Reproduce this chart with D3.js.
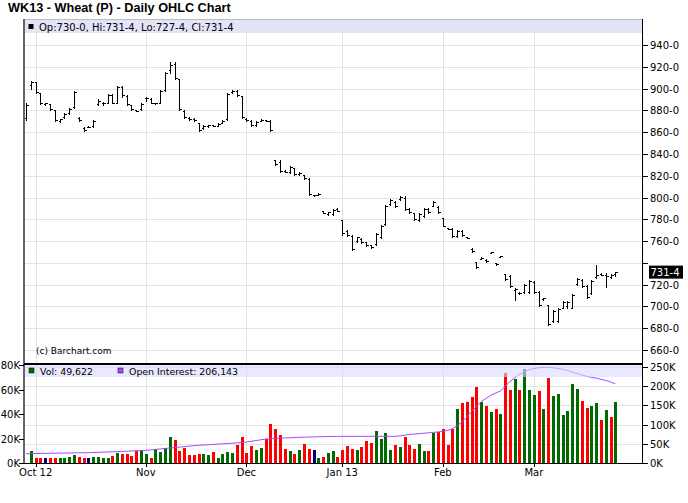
<!DOCTYPE html>
<html><head><meta charset="utf-8">
<script src="https://cdn.jsdelivr.net/npm/d3@7"></script>
<style>html,body{margin:0;padding:0;background:#fff}svg{display:block}</style>
</head><body>
<svg id="c" width="688" height="503"></svg>
<script>
const openP  = [873,903,906,896,886,886,880,870,874,878,883,873,864,865,866,886,887,887,894,887,901,893,885,880,881,891,890,886.5,887,899,917,923,909,879,873,872,868,864,866,866.5,866,868,872,897,898,893,872,870,867,870,871,870,834,833,824,823,827,821.5,821,817,802.5,802,788,785,785,789,779,769,765,760,762,759,756,757,764,776,794,796,798.5,800,789,786,779,783,789,792,791,781,772,771,765,769,763.5,753,741,744,743,749,740,745,730,728,715,712,713,713,722,713,707,701,687,687,699,700,699,721,724,719,712,727,730,729,727,730];
const highP  = [887,907,906,896,887,886,880,872,878,882,898,874,864.5,865.5,871,890,888,895,895,902,902,894,885,880.5,887,892,891,887,899,915,924,924,909,880,874,873,868,866.6,867,866.5,868,871,895.6,899,899,893.5,873,871,870,872,871,871,834.5,834.5,825,829,827.5,823,821,817.7,802.5,804,788,787,789,790,779.5,770,765.7,764,762.6,759.6,756.5,767,775,793,799,797,801,801,790,786,786,790,790,797,792,781,772.4,772,770,770,763.5,754,741,745,743.6,750,740,746.5,730,729,717,713,720.5,724.4,723,714,708,701.5,697,698.5,705,705,711,726,725,720,724.4,738,730.6,730.6,729.6,731.5];
const lowP   = [871,900,896,886,885,880,870,869,873,877,882,870,861,864.5,865,885,885,886.5,886.5,886.5,892.6,885,880,879,880,888.6,886.5,886,886.5,898,914,909,880,873,871,870,861,863,865,866,866,868,871,895.6,893.5,873,870,866,866,870,870,861,830,823,823,822.5,821,821,817,802.4,802,802,785.6,784,784,787.6,766,765,752,759.6,758,755.6,754,756.5,763,775,793.5,791,798,788.6,786,779,778,782.5,786,792,786,773.4,771,764,764,765,763,750,735,743.6,741,749,738,745,724,718,706,711,712,712,712,700,706,683,686,686,698.5,699,698.5,720,718,708,711,726,728.4,717.7,726,727.5];
const closeP = [885,906,897,887,887,881,871,872,877,881,897,871,862,865,870,889,887,894,887,901,894,886,881,879.5,886,891,887,886.5,898,914,922,910,881,874,872,871,862,866,866.5,866,867.5,870.5,895,898,894,874,871,867,869.5,871.5,870.5,862,831,824,823.5,828,822,822.5,818,803,802.5,803.5,786,786.5,788.5,788,767,766,753,763.5,759,756,755,766.5,774,792,798,792,800.5,789,786.5,780,785,789.5,787,796,787,774,771.5,765,769,766,763,750.5,736,744.5,741.5,750,738.5,746,725,719,716,712.5,720,723.5,713,701,707.5,684,696,698,704,704.5,710.5,725,719,709,723.5,729,729,728,728.5,731.5];
const volumeK = [0,10,4.5,3.7,3.7,4.5,3.7,3.7,3.7,5.3,6.7,5.3,3.7,3.7,5.3,5.3,3.7,3.7,6,8.5,7,7.5,6,10,10.7,7,4.5,11.5,9.3,12,21,18.7,10,12,6.7,6.7,7.5,7,6.7,9,3.7,7.5,9,8.5,14.7,21,8.5,14,11,12,20,32,27.5,22.7,11.5,10,7.5,10.7,15.5,11.5,10.7,3.7,5.3,8.5,9.6,5.3,10.7,14,11.5,10.7,12.8,18,16,26,19.5,24.8,10.7,14.7,13,21,14.7,11.5,15.2,10,10,24.8,25.6,27.5,14.7,28,44.5,49,50,54,62,50,47,42,44,40,74,59.5,69,59.5,77,59.5,55.5,58.7,44,70,54.7,56.8,39,43,64.8,60.8,50.7,44.8,46.7,48.8,35.2,43.2,37.3,49.622];
const volumeDir = "ggrrnrrggg" + "grrnggggrg" + "rrrrggrggg" + "grrrrrrggr" + "ggggrrrrgg" + "rrrrrgrgrr" + "ngrggrrrrg" + "rrrggggrgr" + "rrggrgrrrr" + "grrrrgrgrg" + "rrgrgggrgr" + "ggggggrrgg" + "rgrg";
const openInterestK = [
  24.3,24.5,24.7,24.9,25.1,25.3,25.5,25.7,25.9,26.1,
  26.3,26.5,26.7,26.9,27.2,27.8,28.3,28.8,29.3,29.8,
  30.3,30.8,31.3,31.8,32.4,33,34.2,35.4,36.6,37.8,
  39,40.2,41.4,42.6,43.8,45,46,46.8,47.6,48.4,
  49.2,50,50.8,51.6,52.4,53.5,54.7,56.5,58.5,60.5,
  62.5,63.3,64,64.6,65.2,65.7,66.2,66.8,67.2,67.6,
  68,68.3,68.6,68.9,69.1,69.3,69.4,69.4,69.4,69.4,
  69.4,69.4,69.4,69.4,69.4,69.4,69.4,69.4,70.5,72.5,
  74.2,75.3,76.4,77.5,78.6,79.7,80.8,82.5,85,89,
  97,107,120,134,147,160,168,176,182,187.5,
  199,212,222,231,237,243,246,248,249,249,
  248,246,244,241,237,233,229,226,223,221,
  218,215,211,206.143];
const priceTicks = [660,680,700,720,740,760,780,800,820,840,860,880,900,920,940];
const volTicksK = [0,20,40,60,80];
const oiTicksK = [0,50,100,150,200,250];
const monthLabels = ["Oct 12","Nov","Dec","Jan 13","Feb","Mar"];
const monthIndex = [2,25,46,66,87,106];
const title = "WK13 - Wheat (P) - Daily OHLC Chart";

const svg = d3.select("#c");
const FONT = "DejaVu Sans, Verdana, sans-serif";
const L = 24, R = 642, PT = 19, VB = 463;
const n = openP.length - 1;
const x = d3.scaleLinear().domain([0,123]).range([26.1,615.3]);
const y = d3.scaleLinear().domain([660,940]).range([350,45]);
const yv = d3.scaleLinear().domain([0,80]).range([463,365.4]);
const yo = d3.scaleLinear().domain([0,250]).range([463,367]);
const fmt = p => { const w = Math.floor(p), f = Math.round((p-w)*8); return w + "-" + f; };
const px = v => Math.round(v) + 0.5;

svg.append("rect").attr("width",688).attr("height",503).attr("fill","#fff");
svg.append("text").attr("x",8).attr("y",12).attr("font-family","Liberation Sans, Arial, sans-serif")
  .attr("font-weight","bold").attr("font-size",12.7).attr("fill","#000").text(title);

// grid
const g = svg.append("g").attr("shape-rendering","crispEdges");
priceTicks.forEach(t => g.append("line").attr("x1",L).attr("x2",R).attr("y1",px(y(t))).attr("y2",px(y(t))).attr("stroke","#e2e2e2"));
oiTicksK.slice(1).forEach(t => g.append("line").attr("x1",L).attr("x2",R).attr("y1",px(yo(t))).attr("y2",px(yo(t))).attr("stroke","#e2e2e2"));
monthIndex.forEach(i => g.append("line").attr("x1",px(x(i))).attr("x2",px(x(i))).attr("y1",PT).attr("y2",VB).attr("stroke","#e2e2e2"));

// price legend band
svg.append("rect").attr("x",L).attr("y",PT).attr("width",R-L).attr("height",14).attr("fill","#e4e4f8");
svg.append("rect").attr("x",28.5).attr("y",24).attr("width",5).attr("height",5).attr("fill","#000");
svg.append("text").attr("x",39).attr("y",31).attr("font-family",FONT).attr("font-size",10)
  .text(`Op:${fmt(openP[n])}, Hi:${fmt(highP[n])}, Lo:${fmt(lowP[n])}, Cl:${fmt(closeP[n])}`);

// OHLC bars
const ob = svg.append("g").attr("stroke","#000").attr("shape-rendering","crispEdges");
openP.forEach((o,i) => {
  const xx = px(x(i));
  const yh = Math.round(y(highP[i])), yl = Math.round(y(lowP[i]));
  ob.append("line").attr("x1",xx).attr("x2",xx).attr("y1",yh).attr("y2",Math.max(yl+1, yh+2));
  ob.append("line").attr("x1",xx-2).attr("x2",xx).attr("y1",px(y(o))).attr("y2",px(y(o)));
  ob.append("line").attr("x1",xx).attr("x2",xx+2).attr("y1",px(y(closeP[i]))).attr("y2",px(y(closeP[i])));
});

svg.append("text").attr("x",36).attr("y",354).attr("font-family",FONT).attr("font-size",9).text("(c) Barchart.com");

// volume bars
const colors = {g:"#006a00", r:"#ff0000", n:"#000080"};
svg.append("g").attr("shape-rendering","crispEdges").selectAll("rect").data(volumeK).join("rect")
  .attr("x",(d,i)=>Math.round(x(i))-1).attr("width",3)
  .attr("y",d=>yv(d)).attr("height",d=>yv(0)-yv(d))
  .attr("fill",(d,i)=>colors[volumeDir[i]]);

// OI line
svg.append("path").datum(openInterestK).attr("fill","none").attr("stroke","#a348ff").attr("stroke-width",1)
  .attr("d", d3.line().x((d,i)=>x(i)).y(d=>yo(d)));

// volume legend band
svg.append("rect").attr("x",L).attr("y",365).attr("width",R-L).attr("height",12).attr("fill","#d8d8ff").attr("opacity",0.6);
svg.append("rect").attr("x",29).attr("y",368).attr("width",5).attr("height",5).attr("fill","#006a00").attr("stroke","#000").attr("stroke-width",0.5);
svg.append("text").attr("x",40).attr("y",375).attr("font-family",FONT).attr("font-size",9.4).text("Vol: " + d3.format(",")(Math.round(volumeK[n]*1000)));
svg.append("rect").attr("x",118).attr("y",368).attr("width",5).attr("height",5).attr("fill","#a348ff").attr("stroke","#000").attr("stroke-width",0.5);
svg.append("text").attr("x",129).attr("y",375).attr("font-family",FONT).attr("font-size",9.4).text("Open Interest: " + d3.format(",")(Math.round(openInterestK[n]*1000)));

// frame lines
const f = svg.append("g").attr("shape-rendering","crispEdges");
f.append("line").attr("x1",L).attr("x2",R).attr("y1",PT+0.5).attr("y2",PT+0.5).attr("stroke","#bbb");
f.append("line").attr("x1",L).attr("x2",L).attr("y1",PT).attr("y2",VB).attr("stroke","#666").attr("stroke-width",2);
f.append("line").attr("x1",R+0.5).attr("x2",R+0.5).attr("y1",PT).attr("y2",VB).attr("stroke","#000");
f.append("line").attr("x1",L).attr("x2",R).attr("y1",363.5).attr("y2",363.5).attr("stroke","#000").attr("stroke-width",2);
f.append("line").attr("x1",L).attr("x2",R).attr("y1",VB+0.5).attr("y2",VB+0.5).attr("stroke","#000");

// right price axis
const ra = svg.append("g").attr("font-family",FONT).attr("font-size",10);
priceTicks.forEach(t => {
  ra.append("line").attr("x1",R).attr("x2",R+6).attr("y1",px(y(t))).attr("y2",px(y(t))).attr("stroke","#000").attr("shape-rendering","crispEdges");
  if (t !== 740) ra.append("text").attr("x",650).attr("y",y(t)+4).text(t + "-0");
});
ra.append("rect").attr("x",649).attr("y",y(closeP[n])-6.5).attr("width",34).attr("height",13).attr("fill","#000");
ra.append("text").attr("x",650.5).attr("y",y(closeP[n])+4).attr("fill","#fff").text(fmt(closeP[n]));

// volume axes
const va = svg.append("g").attr("font-family",FONT).attr("font-size",10);
volTicksK.forEach(t => {
  va.append("line").attr("x1",L-5).attr("x2",L).attr("y1",px(yv(t))).attr("y2",px(yv(t))).attr("stroke","#000").attr("shape-rendering","crispEdges");
  va.append("text").attr("x",20).attr("y",yv(t)+4).attr("text-anchor","end").text(t + "K");
});
oiTicksK.forEach(t => {
  va.append("line").attr("x1",R).attr("x2",R+6).attr("y1",px(yo(t))).attr("y2",px(yo(t))).attr("stroke","#000").attr("shape-rendering","crispEdges");
  va.append("text").attr("x",650).attr("y",yo(t)+4).text(t + "K");
});
monthIndex.forEach((i,k) => {
  va.append("line").attr("x1",px(x(i))).attr("x2",px(x(i))).attr("y1",VB).attr("y2",VB+4).attr("stroke","#000").attr("shape-rendering","crispEdges");
  va.append("text").attr("x",x(i)).attr("y",476).attr("text-anchor","middle").text(monthLabels[k]);
});
</script>
</body></html>
